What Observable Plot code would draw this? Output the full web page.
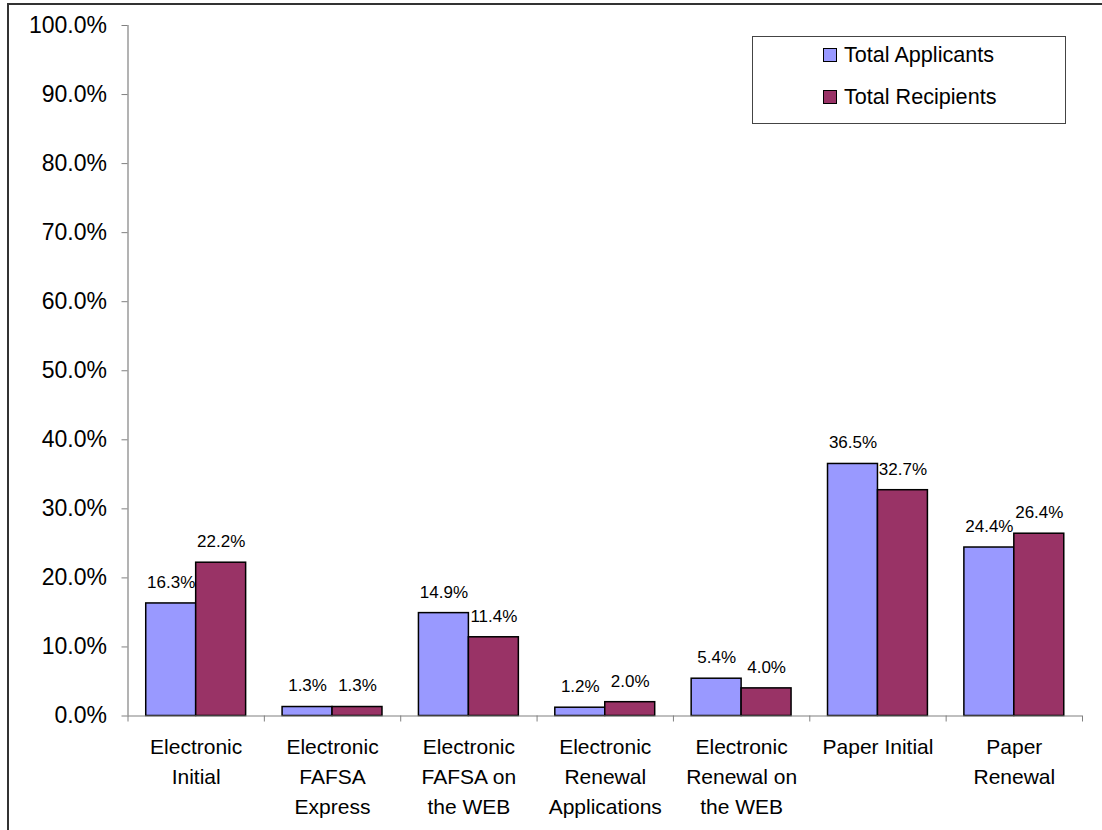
<!DOCTYPE html>
<html>
<head>
<meta charset="utf-8">
<script src="https://cdn.jsdelivr.net/npm/d3@7"></script>
<script src="https://cdn.jsdelivr.net/npm/@observablehq/plot@0.6"></script>
<style>
html, body { margin: 0; padding: 0; background: #fff; overflow: hidden; width: 1102px; height: 830px; }
#wrap { position: relative; width: 1102px; height: 830px; font-family: "Liberation Sans", Arial, sans-serif; }
#chart { position: absolute; left: 0; top: 0; }
#border { position: absolute; left: 7px; top: 3px; width: 1200px; height: 1000px; border: 2px solid #333; pointer-events: none; }
#legend { position: absolute; left: 752px; top: 36px; width: 312px; height: 86px; border: 1px solid #444; background: #fff; }
.item { position: absolute; left: 70px; height: 24px; display: flex; align-items: center; font-size: 21.6px; color: #000; white-space: nowrap; }
.sw { width: 12px; height: 12px; border: 1.5px solid #000; margin-right: 7px; }
</style>
</head>
<body>
<div id="wrap">
  <div id="chart"></div>
  <div id="border"></div>
  <div id="legend"></div>
</div>
<script>
// ---- data ----
const categories = [
  "Electronic\nInitial",
  "Electronic\nFAFSA\nExpress",
  "Electronic\nFAFSA on\nthe WEB",
  "Electronic\nRenewal\nApplications",
  "Electronic\nRenewal on\nthe WEB",
  "Paper Initial",
  "Paper\nRenewal"
];
const seriesNames = ["Total Applicants", "Total Recipients"];
const applicants = [16.3, 1.3, 14.9, 1.2, 5.4, 36.5, 24.4];
const recipients = [22.2, 1.3, 11.4, 2.0, 4.0, 32.7, 26.4];
const yTicks = [0, 10, 20, 30, 40, 50, 60, 70, 80, 90, 100];

// ---- styling / layout constants ----
const colors = ["#9999FF", "#993366"];
const gap = 0.1337;   // fraction of category slot left empty on each side
const bw = 0.3663;    // bar width as fraction of slot
const font = "Liberation Sans, Arial, sans-serif";

const rows = categories.map((c, i) => ({ i, c, a: applicants[i], r: recipients[i] }));
const boundaries = d3.range(categories.length + 1);

const chart = Plot.plot({
  width: 1102,
  height: 830,
  marginLeft: 127.5,
  marginRight: 20,
  marginTop: 25,
  marginBottom: 114.5,
  x: { domain: [0, categories.length], axis: null },
  y: { domain: [0, 100], axis: null },
  style: { fontFamily: font, background: "transparent", color: "#000" },
  marks: [
    Plot.rect(rows, { x1: d => d.i + gap, x2: d => d.i + gap + bw, y1: 0, y2: "a", fill: colors[0], stroke: "#000", strokeWidth: 1.5 }),
    Plot.rect(rows, { x1: d => d.i + gap + bw, x2: d => d.i + gap + 2 * bw, y1: 0, y2: "r", fill: colors[1], stroke: "#000", strokeWidth: 1.5 }),
    Plot.ruleY([0], { stroke: "#808080", strokeWidth: 1.2 }),
    Plot.ruleX([0], { stroke: "#808080", strokeWidth: 1.2 }),
    Plot.axisY({ ticks: yTicks, tickSize: 6, tickPadding: 15, tickFormat: d => d.toFixed(1) + "%", fontSize: 23, stroke: "#808080", fill: "#000" }),
    Plot.axisX({ ticks: boundaries, tickSize: 6, tickFormat: () => "", stroke: "#808080" }),
    Plot.text(rows, { x: d => d.i + 0.5, y: 0, text: "c", lineAnchor: "top", dy: 16.5, fontSize: 21, lineHeight: 1.43, fill: "#000" }),
    Plot.text(rows, { x: d => d.i + gap + bw / 2, y: "a", text: d => d.a.toFixed(1) + "%", dy: -21, fontSize: 17, fill: "#000" }),
    Plot.text(rows, { x: d => d.i + gap + 1.5 * bw, y: "r", text: d => d.r.toFixed(1) + "%", dy: -21, fontSize: 17, fill: "#000" })
  ]
});
document.getElementById("chart").appendChild(chart);

// legend
const legend = document.getElementById("legend");
const tops = [5.5, 47.5];
seriesNames.forEach((name, k) => {
  const it = document.createElement("div");
  it.className = "item";
  it.style.top = tops[k] + "px";
  const sw = document.createElement("span");
  sw.className = "sw";
  sw.style.background = colors[k];
  const tx = document.createElement("span");
  tx.textContent = name;
  it.appendChild(sw);
  it.appendChild(tx);
  legend.appendChild(it);
});
</script>
</body>
</html>
